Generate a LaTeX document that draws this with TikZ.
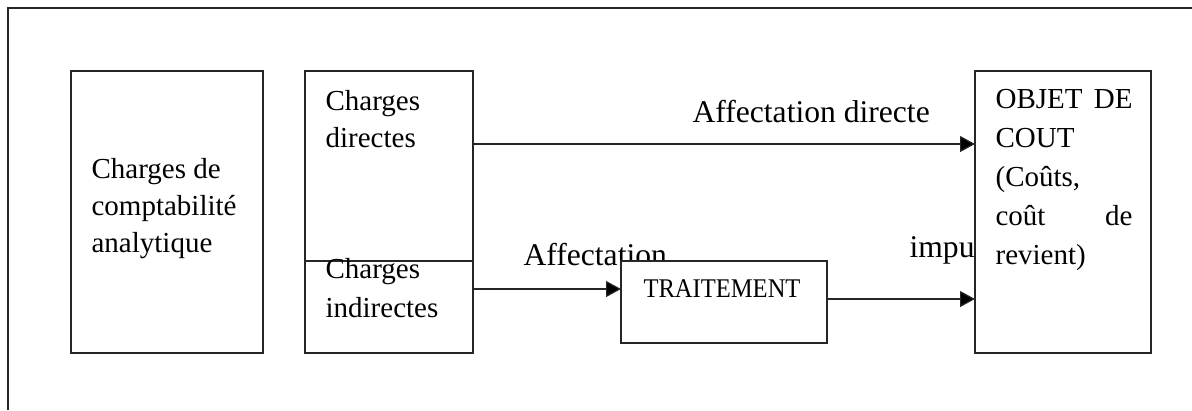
\documentclass[tikz,border=0pt]{standalone}
\usepackage{fontspec}
\newfontfamily\tnr{Liberation Serif}
\usetikzlibrary{arrows.meta}
\begin{document}
\begin{tikzpicture}[x=1pt,y=-1pt,
  line width=1.2pt,
  box/.style={draw=black!85, fill=white, inner sep=0pt, outer sep=0pt},
  boxtxt/.style={font=\tnr\fontsize{29}{37}\selectfont, anchor=base west, inner sep=0pt, align=left},
  lbl/.style={font=\tnr\fontsize{31.6}{37}\selectfont, anchor=base west, inner sep=0pt},
  arr/.style={draw=black!85, -{Triangle[length=15pt,width=16pt,fill=black]}}]
\useasboundingbox (0,0) rectangle (1192,410);

% page frame
\draw[black!85] (8,410) -- (8,8) -- (1192,8);

% connector labels (the lower one is partly hidden by the box drawn after it)
\node[lbl] (ldir) at (692,122) {Affectation directe};
\node[lbl] (laff) at (523,265) {Affectation};
\node[lbl] (limp) at (909,257) {impu};

% boxes
\node[box, minimum width=192pt, minimum height=282pt] (cca) at (167,212) {};
\node[box, minimum width=168pt, minimum height=282pt] (chg) at (389,212) {};
\coordinate (dl) at (305,261);
\coordinate (dr) at (473,261);
\draw[black!85] (dl) -- (dr);
\node[box, minimum width=206pt, minimum height=82pt] (trt) at (724,302) {};
\node[box, minimum width=176pt, minimum height=282pt] (obj) at (1063,212) {};

% box texts (base anchor = last line)
\node[boxtxt] (tcca) at (91,252) {Charges de\\comptabilité\\analytique};
\node[boxtxt] (tdir) at (325,147) {Charges\\directes};
\node[boxtxt, font=\tnr\fontsize{29}{39}\selectfont] (tind) at (325,317) {Charges\\indirectes};
\node[anchor=base west, inner sep=0pt, font=\tnr\fontsize{27}{30}\selectfont, xscale=0.91] (ttrt) at (643,297) {TRAITEMENT};
\node[boxtxt, font=\tnr\fontsize{29}{39}\selectfont, text width=137pt] (tobj) at (995,108)
  {OBJET\hfill DE\\COUT\\(Coûts,\\coût\hfill de\\revient)};

% connectors
\coordinate (y1) at (0,144);
\coordinate (y2) at (0,289);
\coordinate (y3) at (0,299);
\draw[arr] (chg.east |- y1) -- (obj.west |- y1);
\draw[arr] (chg.east |- y2) -- (trt.west |- y2);
\draw[arr] (trt.east |- y3) -- (obj.west |- y3);
\end{tikzpicture}
\end{document}
